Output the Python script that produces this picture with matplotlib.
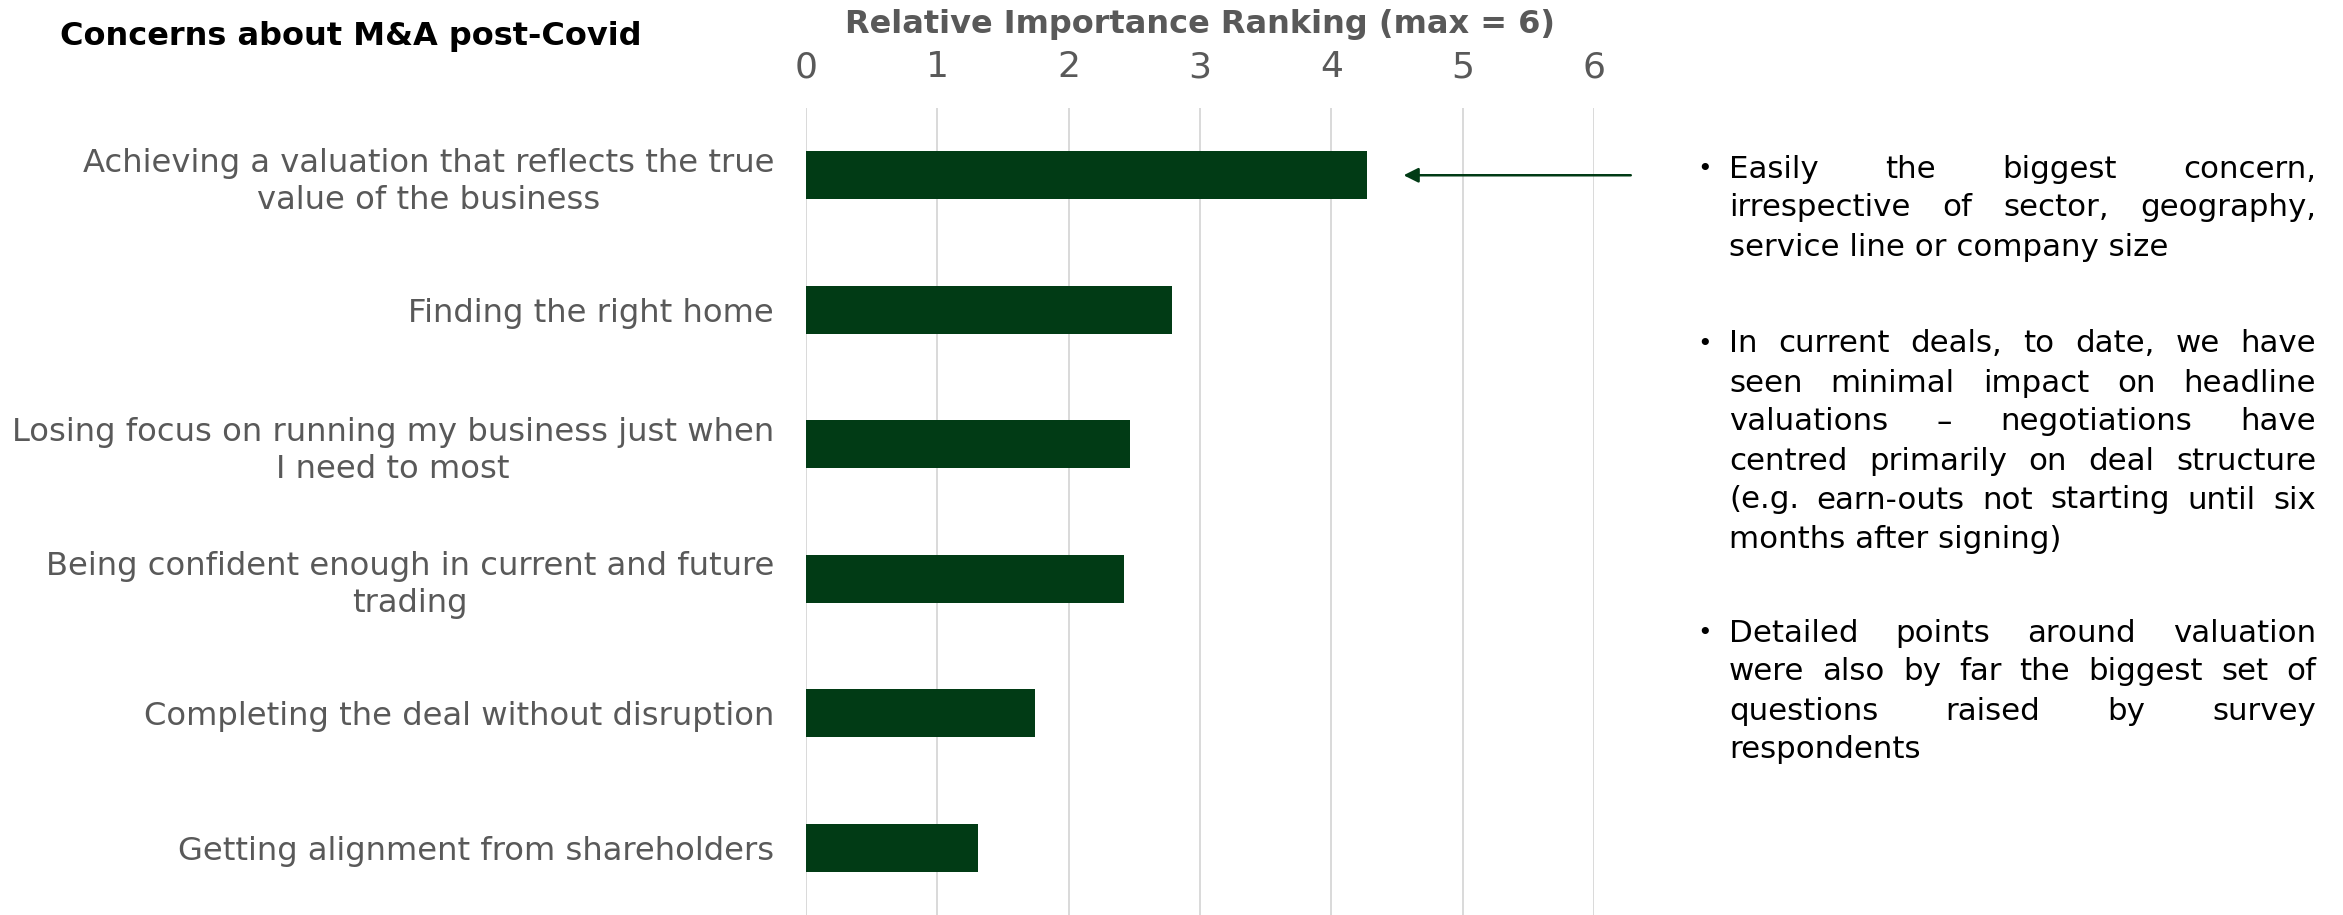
import matplotlib
matplotlib.use('Agg')  # no display
import matplotlib.pyplot as plt

# Survey results: relative importance of M&A concerns (max = 6)
categories = [
    "Achieving a valuation that reflects the true\nvalue of the business",
    "Finding the right home",
    "Losing focus on running my business just when\nI need to most",
    "Being confident enough in current and future\ntrading",
    "Completing the deal without disruption",
    "Getting alignment from shareholders",
]
values = [4.27, 2.79, 2.47, 2.42, 1.74, 1.31]
x_ticks = [0, 1, 2, 3, 4, 5, 6]

# Commentary bullets, one list of lines per bullet
notes = [
    ["Easily the biggest concern,",
     "irrespective of sector, geography,",
     "service line or company size"],
    ["In current deals, to date, we have",
     "seen minimal impact on headline",
     "valuations \u2013 negotiations have",
     "centred primarily on deal structure",
     "(e.g. earn-outs not starting until six",
     "months after signing)"],
    ["Detailed points around valuation",
     "were also by far the biggest set of",
     "questions raised by survey",
     "respondents"],
]

bar_color = "#013b15"
grey = "#595959"
W, H = 2343, 915

plt.rcParams['font.family'] = ['DejaVu Sans']
fig = plt.figure(figsize=(W / 100, H / 100), dpi=100)
ax = fig.add_axes([806 / W, 0, (1594 - 806) / W, (H - 108) / H])

ypos = list(range(len(categories)))
ax.barh(ypos, values, height=0.355, color=bar_color, zorder=3)
ax.set_ylim(len(categories) - 0.5, -0.5)
ax.set_xlim(0, 6)

ax.xaxis.tick_top()
ax.set_xticks(x_ticks)
ax.set_xticklabels([str(t) for t in x_ticks], fontsize=26, color=grey)
ax.set_yticks(ypos)
ax.set_yticklabels(categories, fontsize=23.2, color=grey, multialignment='center',
                   linespacing=1.25)
ax.tick_params(axis='x', length=0, pad=17)
ax.tick_params(axis='y', length=0, pad=23)
ax.grid(axis='x', color="#d9d9d9", linewidth=1.4, zorder=0)
ax.grid(axis='y', visible=False)
for s in ax.spines.values():
    s.set_visible(False)

fig.text(60 / W, 1 - 36 / H, "Concerns about M&A post-Covid", fontsize=23,
         fontweight='bold', color='black', va='center', ha='left')
fig.text(1200 / W, 1 - 25 / H, "Relative Importance Ranking (max = 6)", fontsize=23,
         fontweight='bold', color=grey, va='center', ha='center')

# Arrow pointing at the top bar
ax.annotate("", xy=(values[0] + 0.28, 0), xytext=(6.28, 0),
            annotation_clip=False,
            arrowprops=dict(arrowstyle='-|>', color=bar_color, lw=1.8,
                            mutation_scale=22, shrinkA=0, shrinkB=0))

# Justified bullet text on the right
fig.canvas.draw()
renderer = fig.canvas.get_renderer()
text_left, text_right, bullet_x = 1729, 2316, 1697
first_line_y = [169, 344, 633]
line_step = 39
fs_note = 22.2
for para, y0 in zip(notes, first_line_y):
    fig.text(bullet_x / W, 1 - y0 / H, "\u2022", fontsize=fs_note * 0.8, color='black',
             va='center', ha='left')
    for i, line in enumerate(para):
        y = 1 - (y0 + i * line_step) / H
        words = line.split(" ")
        if i == len(para) - 1 or len(words) == 1:
            # last line of a paragraph stays left-aligned
            fig.text(text_left / W, y, line, fontsize=fs_note, color='black',
                     va='center', ha='left')
            continue
        objs = [fig.text(0, y, w, fontsize=fs_note, color='black', va='center', ha='left')
                for w in words]
        widths = [o.get_window_extent(renderer).width for o in objs]
        space = (text_right - text_left - sum(widths)) / (len(words) - 1)
        x = text_left
        for o, w in zip(objs, widths):
            o.set_x(x / W)
            x += w + space

fig.savefig("out.png", dpi=100)
